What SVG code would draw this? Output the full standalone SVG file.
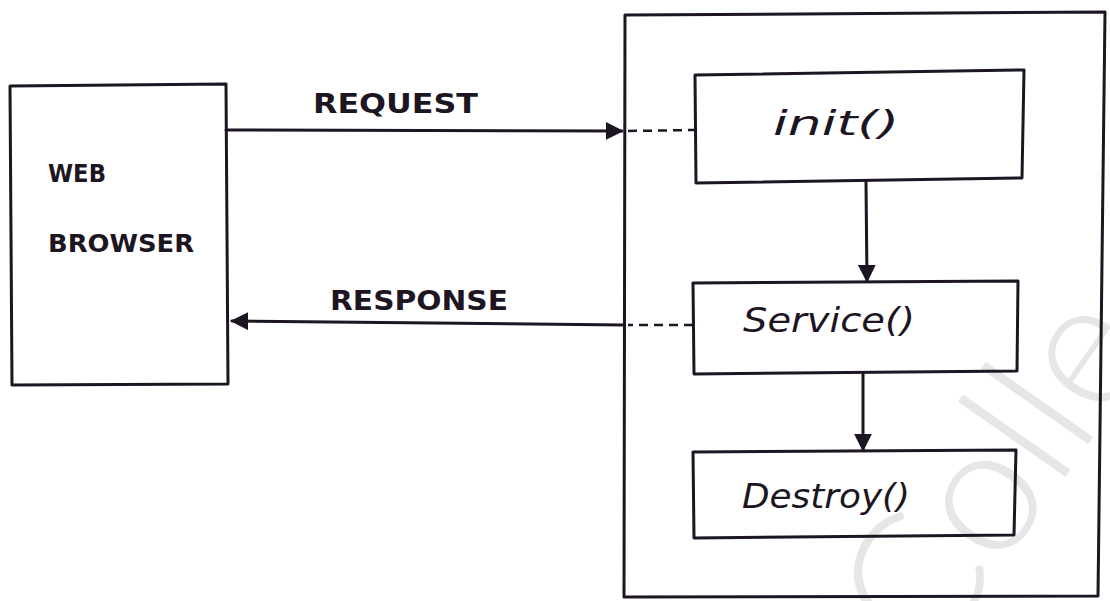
<svg xmlns="http://www.w3.org/2000/svg" width="1110" height="601" viewBox="0 0 1110 601">
  <style>
    .ink { fill: none; stroke: #1d1522; stroke-width: 3; stroke-linejoin: round; stroke-linecap: round; }
    .dash { fill: none; stroke: #1d1522; stroke-width: 2.5; stroke-dasharray: 9 6; }
    .caps { font-family: "DejaVu Sans", "Liberation Sans", sans-serif; font-weight: bold; fill: #1d1522; }
    .hand { font-family: "DejaVu Sans", "Liberation Sans", sans-serif; font-style: italic; fill: #1d1522; }
    .mark { font-family: Lato, "Open Sans", sans-serif; font-weight: 300; fill: #e6e6e6; }
  </style>
  <defs>
    <marker id="arrow" viewBox="0 0 10 10" refX="9" refY="5" markerWidth="6" markerHeight="6" markerUnits="strokeWidth" orient="auto">
      <path d="M0,0 L10,5 L0,10 Z" fill="#1d1522"/>
    </marker>
  </defs>

  <rect width="1110" height="601" fill="#ffffff"/>

  <!-- faint watermark lettering running off the lower right corner -->
  <text class="mark" x="0" y="0" font-size="180" transform="translate(930,670) rotate(-55)">Colle</text>

  <!-- client side -->
  <g id="web-browser">
    <path class="ink" d="M10,86 L226,84 L228,384 L12,385 Z"/>
    <text class="caps" x="48" y="182" font-size="24" textLength="58" lengthAdjust="spacingAndGlyphs">WEB</text>
    <text class="caps" x="48" y="252" font-size="24" textLength="146" lengthAdjust="spacingAndGlyphs">BROWSER</text>
  </g>

  <!-- servlet container -->
  <g id="container">
    <path class="ink" d="M625,15 L1105,12 L1098,596 L624,597 Z"/>
  </g>

  <g id="init">
    <path class="ink" d="M695,75 L1024,70 L1022,178 L696,183 Z"/>
    <text class="hand" x="773" y="135" font-size="33" textLength="126" lengthAdjust="spacingAndGlyphs">init()</text>
  </g>

  <g id="service">
    <path class="ink" d="M693,283 L1018,281 L1017,371 L694,374 Z"/>
    <text class="hand" x="743" y="332" font-size="33" textLength="172" lengthAdjust="spacingAndGlyphs">Service()</text>
  </g>

  <g id="destroy">
    <path class="ink" d="M693,452 L1016,450 L1014,535 L694,538 Z"/>
    <text class="hand" x="742" y="508" font-size="33" textLength="168" lengthAdjust="spacingAndGlyphs">Destroy()</text>
  </g>

  <!-- connectors -->
  <g id="connectors">
    <line class="ink" x1="226" y1="130" x2="622" y2="131" marker-end="url(#arrow)"/>
    <line class="dash" x1="628" y1="131" x2="695" y2="130"/>
    <text class="caps" x="313" y="113" font-size="26" textLength="165" lengthAdjust="spacingAndGlyphs">REQUEST</text>

    <line class="dash" x1="693" y1="325" x2="628" y2="325"/>
    <line class="ink" x1="624" y1="325" x2="232" y2="321" marker-end="url(#arrow)"/>
    <text class="caps" x="330" y="310" font-size="27" textLength="178" lengthAdjust="spacingAndGlyphs">RESPONSE</text>

    <line class="ink" x1="866" y1="182" x2="867" y2="281" marker-end="url(#arrow)"/>
    <line class="ink" x1="863" y1="373" x2="863" y2="450" marker-end="url(#arrow)"/>
  </g>
</svg>
